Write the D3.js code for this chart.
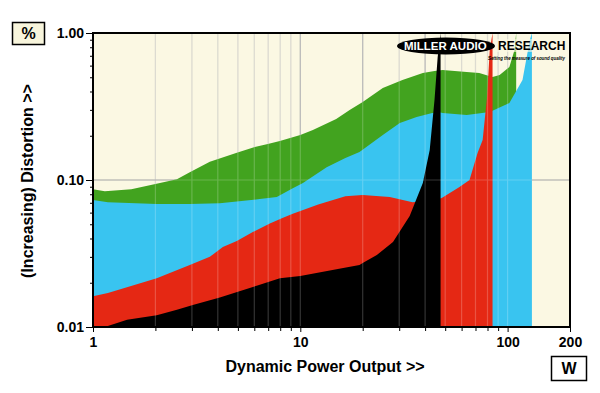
<!DOCTYPE html>
<html>
<head>
<meta charset="utf-8">
<script src="https://cdnjs.cloudflare.com/ajax/libs/d3/7.8.5/d3.min.js"></script>
<style>
  body { margin: 0; background: #fff; }
  text { font-family: 'Liberation Sans', Arial, sans-serif; font-weight: bold; }
</style>
</head>
<body>
<div id="chart"></div>
<script>
// Distortion (%) against dynamic power output (W), one band per load.
var greenW   = [1, 1.14, 1.53, 2.0, 2.54, 2.93, 3.66, 4.94, 6.03, 6.97, 7.97, 10, 11.5, 14.9, 17.3, 20, 25, 31.1, 39, 44.4, 48.6, 63.5, 73, 84.6, 91.5, 102, 108, 110];
var greenPct = [0.0866, 0.084, 0.0866, 0.0939, 0.101, 0.113, 0.133, 0.153, 0.168, 0.176, 0.184, 0.202, 0.219, 0.26, 0.299, 0.339, 0.423, 0.479, 0.534, 0.551, 0.56, 0.543, 0.534, 0.502, 0.518, 0.587, 0.766, 1.0];

var blueW   = [1, 1.18, 2.03, 2.93, 4.09, 6.37, 7.7, 9.2, 10.3, 13.4, 16.5, 19.3, 25, 30.2, 36.4, 43.3, 47.5, 48.6, 63.5, 82, 102, 118, 128, 131];
var bluePct = [0.073, 0.0707, 0.0686, 0.0686, 0.0696, 0.0742, 0.0766, 0.088, 0.0954, 0.122, 0.141, 0.155, 0.202, 0.244, 0.268, 0.286, 0.288, 0.286, 0.277, 0.29, 0.334, 0.479, 0.896, 1.0];

var redW   = [1, 1.18, 2.03, 2.93, 3.66, 4.23, 4.94, 5.9, 7.13, 8.2, 9.2, 12.2, 16.5, 20, 27, 34.8, 40, 45, 48.1, 58.6, 65.5, 71.7, 75.8, 79.6, 82, 84.6];
var redPct = [0.0162, 0.017, 0.0215, 0.0264, 0.03, 0.035, 0.0385, 0.0443, 0.0505, 0.0552, 0.059, 0.068, 0.0775, 0.0791, 0.0766, 0.0707, 0.072, 0.073, 0.0754, 0.0896, 0.1, 0.153, 0.187, 0.367, 0.766, 1.0];

var blackW   = [1, 1.14, 1.46, 2.03, 2.54, 3.03, 4.09, 6.16, 7.97, 10, 15.4, 19.3, 20, 23.4, 28, 33.7, 39, 42.1, 44.4, 46, 47.5];
var blackPct = [0.01, 0.01, 0.0112, 0.012, 0.0131, 0.0141, 0.0159, 0.0191, 0.0215, 0.0222, 0.0249, 0.0264, 0.0272, 0.0309, 0.0379, 0.057, 0.0954, 0.16, 0.35, 0.687, 1.0];

var xTicks = [1, 10, 100, 200];
var xTickLabels = ['1', '10', '100', '200'];
var yTicks = [1, 0.1, 0.01];
var yTickLabels = ['1.00', '0.10', '0.01'];
var gridW = [2, 3, 4, 5, 6, 7, 8, 9, 10, 20, 30, 40, 50, 60, 70, 80, 90, 100];

var series = [
  { w: greenW, v: greenPct, color: '#42a31f' },
  { w: blueW,  v: bluePct,  color: '#39c4f0' },
  { w: redW,   v: redPct,   color: '#e52814' },
  { w: blackW, v: blackPct, color: '#000000' }
];

var x = d3.scaleLog().domain([1, 200]).range([93, 570]);
var y = d3.scaleLog().domain([0.01, 1]).range([327, 33]);

var svg = d3.select('#chart').append('svg')
  .attr('width', 600)
  .attr('height', 393);

// Plot background.
svg.append('rect')
  .attr('x', x(1)).attr('y', y(1))
  .attr('width', x(200) - x(1)).attr('height', y(0.01) - y(1))
  .attr('fill', '#fbf8e3');

// Grid beneath the bands.
var under = svg.append('g');
under.selectAll('line.v').data(gridW).enter().append('line')
  .attr('x1', function(d) { return x(d); }).attr('x2', function(d) { return x(d); })
  .attr('y1', y(1)).attr('y2', y(0.01))
  .attr('stroke', function(d) { return (d == 10 || d == 20 || d == 40) ? '#a8a8a8' : '#d4d2c6'; })
  .attr('stroke-width', 1.2);
under.append('line')
  .attr('x1', x(1)).attr('x2', x(200))
  .attr('y1', y(0.1)).attr('y2', y(0.1))
  .attr('stroke', '#999').attr('stroke-width', 1.2);

// Bands, each filled down to the floor.
var area = d3.area()
  .x(function(d) { return x(d[0]); })
  .y0(y(0.01))
  .y1(function(d) { return y(d[1]); });

svg.append('g').selectAll('path').data(series).enter().append('path')
  .attr('d', function(s) { return area(s.w.map(function(w, i) { return [w, s.v[i]]; })); })
  .attr('fill', function(s) { return s.color; });

// Faint grid over the bands.
var over = svg.append('g').attr('opacity', 0.2);
over.selectAll('line.v').data(gridW).enter().append('line')
  .attr('x1', function(d) { return x(d); }).attr('x2', function(d) { return x(d); })
  .attr('y1', y(1)).attr('y2', y(0.01))
  .attr('stroke', '#fff').attr('stroke-width', 1.2);
over.append('line')
  .attr('x1', x(1)).attr('x2', x(200))
  .attr('y1', y(0.1)).attr('y2', y(0.1))
  .attr('stroke', '#fff').attr('stroke-width', 1.2);

// Logo.
var logo = svg.append('g');
logo.append('ellipse')
  .attr('cx', 446).attr('cy', 46)
  .attr('rx', 49).attr('ry', 8.5)
  .attr('fill', '#000');
logo.append('text')
  .attr('x', 404).attr('y', 50)
  .attr('font-size', 11.5).attr('fill', '#fff')
  .text('MILLER AUDIO');
logo.append('rect')
  .attr('x', 496).attr('y', 39).attr('width', 70).attr('height', 13)
  .attr('fill', '#fbf8e3').attr('opacity', 0.6);
logo.append('text')
  .attr('x', 498).attr('y', 50)
  .attr('font-size', 12).attr('fill', '#000')
  .text('RESEARCH');
logo.append('text')
  .attr('x', 488).attr('y', 60)
  .attr('textLength', 77).attr('lengthAdjust', 'spacingAndGlyphs')
  .attr('font-size', 5).attr('font-style', 'italic').attr('fill', '#000')
  .text('Setting the measure of sound quality');

// Plot frame.
svg.append('rect')
  .attr('x', x(1)).attr('y', y(1))
  .attr('width', x(200) - x(1)).attr('height', y(0.01) - y(1))
  .attr('fill', 'none').attr('stroke', '#000').attr('stroke-width', 2);

// Y axis.
var yMinor = [];
[0.01, 0.1].forEach(function(p) {
  for (var k = 2; k <= 9; k++) yMinor.push(p * k);
});

svg.append('g')
  .attr('transform', 'translate(' + (x(1) - 1) + ',0)')
  .call(d3.axisLeft(y).tickValues(yMinor).tickSize(2).tickFormat(''))
  .call(function(g) { g.select('.domain').remove(); });

svg.append('g')
  .attr('transform', 'translate(' + (x(1) - 1) + ',0)')
  .call(d3.axisLeft(y).tickValues(yTicks).tickSize(6).tickPadding(2)
    .tickFormat(function(d, i) { return yTickLabels[i]; }))
  .call(function(g) {
    g.select('.domain').remove();
    g.selectAll('text').attr('font-size', 14).attr('fill', '#000')
      .style('font-family', "'Liberation Sans', Arial, sans-serif").style('font-weight', 'bold');
  });

// X axis.
var xMinor = gridW.filter(function(d) { return xTicks.indexOf(d) < 0; });

svg.append('g')
  .attr('transform', 'translate(0,' + (y(0.01) + 1) + ')')
  .call(d3.axisBottom(x).tickValues(xMinor).tickSize(3).tickFormat(''))
  .call(function(g) { g.select('.domain').remove(); });

svg.append('g')
  .attr('transform', 'translate(0,' + (y(0.01) + 1) + ')')
  .call(d3.axisBottom(x).tickValues(xTicks).tickSize(4).tickPadding(5)
    .tickFormat(function(d, i) { return xTickLabels[i]; }))
  .call(function(g) {
    g.select('.domain').remove();
    g.selectAll('text').attr('font-size', 14).attr('fill', '#000')
      .style('font-family', "'Liberation Sans', Arial, sans-serif").style('font-weight', 'bold');
  });

// Titles.
svg.append('text')
  .attr('x', 325).attr('y', 372)
  .attr('text-anchor', 'middle').attr('font-size', 16)
  .text('Dynamic Power Output >>');

svg.append('text')
  .attr('transform', 'translate(33,181) rotate(-90)')
  .attr('text-anchor', 'middle').attr('font-size', 16)
  .text('(Increasing) Distortion >>');

// Unit boxes.
svg.append('rect')
  .attr('x', 12.5).attr('y', 22.5).attr('width', 32).attr('height', 22)
  .attr('fill', '#f8f5dc').attr('stroke', '#000').attr('stroke-width', 1.5);
svg.append('text')
  .attr('x', 28.5).attr('y', 39)
  .attr('text-anchor', 'middle').attr('font-size', 16)
  .text('%');

svg.append('rect')
  .attr('x', 551.5).attr('y', 356.5).attr('width', 35).attr('height', 24)
  .attr('fill', '#fff').attr('stroke', '#000').attr('stroke-width', 1.5);
svg.append('text')
  .attr('x', 569).attr('y', 374)
  .attr('text-anchor', 'middle').attr('font-size', 16)
  .text('W');
</script>
</body>
</html>
